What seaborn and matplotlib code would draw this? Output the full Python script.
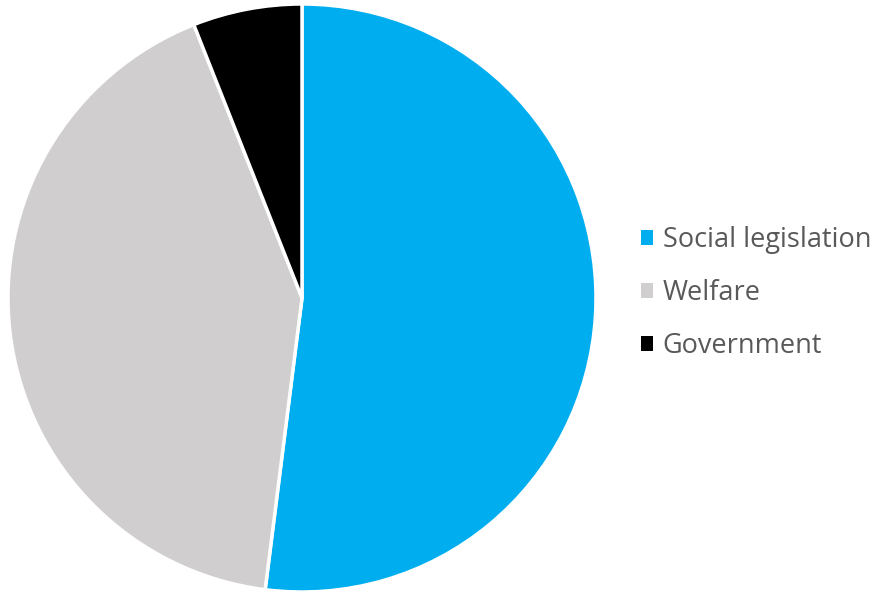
import matplotlib
matplotlib.use("Agg")
import matplotlib.pyplot as plt
import seaborn as sns
from matplotlib.patches import Patch

categories = ["Social legislation", "Welfare", "Government"]
shares = [52, 42, 6]
colors = ["#00AEEF", "#D0CECE", "#000000"]

sns.set_theme(style="white")
plt.rcParams["font.family"] = ["Open Sans", "DejaVu Sans"]

W, H = 884, 591
fig = plt.figure(figsize=(W / 100, H / 100), dpi=100)
cx, cy, r = 302, 298, 294
ax = fig.add_axes([(cx - r) / W, (H - cy - r) / H, 2 * r / W, 2 * r / H])

ax.pie(shares, colors=colors, startangle=90, counterclock=False,
       wedgeprops=dict(edgecolor="white", linewidth=2.5), radius=1.0)
ax.set_xlim(-1, 1)
ax.set_ylim(-1, 1)
ax.set_aspect("equal")
ax.axis("off")

handles = [Patch(facecolor=c, edgecolor="none") for c in colors]
leg = fig.legend(handles, categories, loc="center left",
                 bbox_to_anchor=(622 / W, 1 - 293 / H), frameon=False,
                 fontsize=19.5, labelcolor="#595959",
                 handlelength=0.45, handleheight=0.45, handletextpad=0.35,
                 labelspacing=0.92, borderpad=0.2)

fig.savefig("out.png", dpi=100)
